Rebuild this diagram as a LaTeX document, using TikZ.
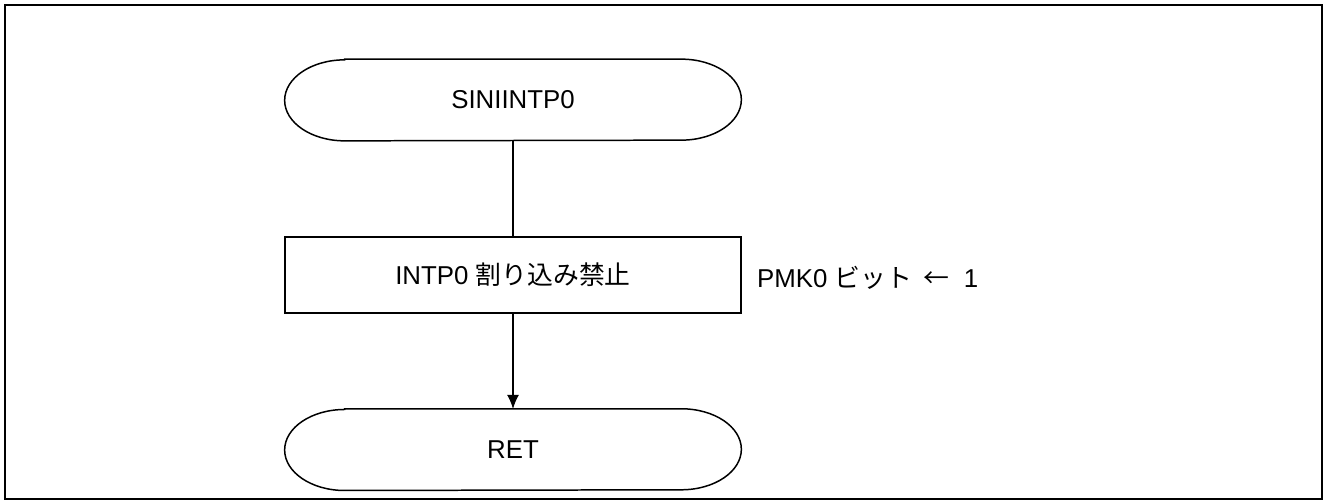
\documentclass[tikz,border=0pt]{standalone}
\usepackage{fontspec}
\setmainfont{Liberation Sans}
\newfontfamily\jpfont{Noto Sans CJK JP}
\usetikzlibrary{arrows.meta}
\usetikzlibrary{positioning}

% outline of a terminal node: straight top and bottom, half-ellipse ends
\newcommand{\trmline}[1]{%
  \draw[line width=0.85pt] ([xshift=1.2cm]#1.north west) -- ([xshift=-1.2cm]#1.north east)
    arc[start angle=90, end angle=-90, x radius=1.2cm, y radius=0.81cm]
    -- ([xshift=1.2cm]#1.south west)
    arc[start angle=270, end angle=90, x radius=1.2cm, y radius=0.81cm] -- cycle;}

\begin{document}
\begin{tikzpicture}[every node/.style={font=\fontsize{14.7}{17}\selectfont}]

  \tikzset{TRM/.style={minimum width=9.12cm, minimum height=1.62cm, inner sep=0pt} }
  \tikzset{PRC/.style={draw, line width=1.1pt, minimum width=9.12cm, minimum height=1.52cm, inner sep=0pt} }
  \tikzset{>={Latex[length=0.28cm,width=0.24cm]}}

  \useasboundingbox (0,0) rectangle (26.5,-10.08);
  \draw[line width=1.1pt] (0.1,-0.1) rectangle (26.44,-9.98);

  \node[TRM] (sini) at (10.26,-2.0) {SINIINTP0};
  \node[PRC, below=1.9cm of sini] (intp) {INTP0 {\jpfont 割り込み禁止}};
  \node[TRM, below=1.9cm of intp] (ret) {RET};
  \node[right=0.18cm of intp, yshift=-0.06cm] (pmk) {PMK0 {\jpfont ビット\ \ ←}\ \ 1};

  \trmline{sini}
  \trmline{ret}

  \draw[line width=0.6pt] (sini) -- (intp);
  \draw[->, line width=0.6pt] (intp) -- (ret);
\end{tikzpicture}
\end{document}
